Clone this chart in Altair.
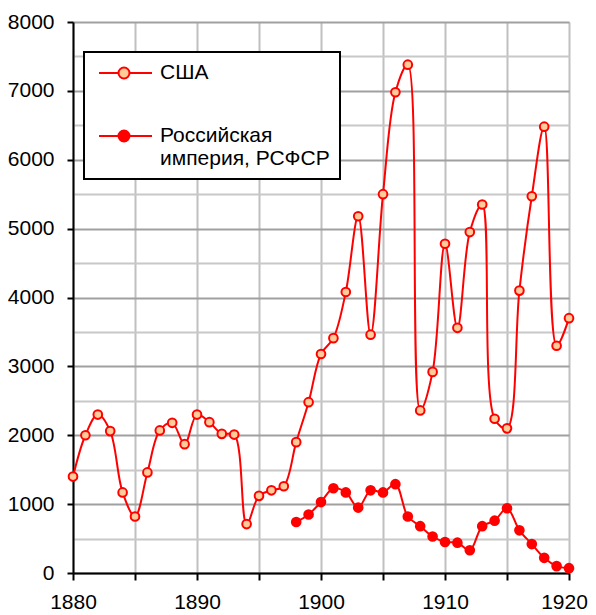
import altair as alt
import pandas as pd

series_names = ["США", "Российская империя, РСФСР"]

years_usa = list(range(1880, 1921))
usa = [1400, 2000, 2300, 2060, 1170, 820, 1460, 2070, 2180, 1870,
       2300, 2190, 2020, 2010, 710, 1120, 1200, 1260, 1900, 2480,
       3180, 3410, 4080, 5180, 3460, 5500, 6980, 7380, 2360, 2920,
       4780, 3560, 4950, 5350, 2240, 2100, 4100, 5470, 6480, 3300,
       3700]

years_ru = list(range(1898, 1921))
ru = [740, 850, 1030, 1230, 1170, 950, 1200, 1170, 1290, 820,
      680, 530, 450, 440, 330, 680, 760, 940, 620, 420,
      220, 100, 70]

x_ticks = list(range(1880, 1921, 5))
y_ticks = list(range(0, 8001, 500))

df = pd.concat([
    pd.DataFrame({"year": years_usa, "value": usa, "series": series_names[0]}),
    pd.DataFrame({"year": years_ru, "value": ru, "series": series_names[1]}),
])

FONT = "Liberation Sans"

x = alt.X("year:Q", scale=alt.Scale(domain=[1880, 1920], nice=False, zero=False),
          axis=alt.Axis(values=x_ticks, format="d", title=None,
                        labelExpr="datum.value % 10 == 0 ? datum.label : ''",
                        labelOffset={"condition": {"test": "datum.value == 1920", "value": -5}, "value": 0},
                        gridColor="#c0c0c0", gridWidth=2, tickSize=7, tickWidth=2,
                        tickColor="black", labelPadding=11, domainColor="black",
                        domainWidth=2, labelFontSize=21, labelFont=FONT,
                        labelColor="black", labelFlush=False))
y = alt.Y("value:Q", scale=alt.Scale(domain=[0, 8000], nice=False),
          axis=alt.Axis(values=y_ticks, format="d", title=None,
                        labelExpr="datum.value % 1000 == 0 ? datum.label : ''",
                        gridColor={"condition": {"test": "datum.value % 1000 == 0", "value": "#a0a0a0"}, "value": "#c8c8c8"},
                        gridWidth=2,
                        tickOpacity={"condition": {"test": "datum.value % 1000 == 0", "value": 1}, "value": 0},
                        tickSize=6, tickWidth=2, tickColor="black", labelPadding=13,
                        domainColor="black", domainWidth=2, labelFontSize=21,
                        labelFont=FONT, labelColor="black", labelFlush=False))

# legend glyph: a line segment with a circle on it (unit = sqrt(symbolSize)/2 px)
sym = ("M-0.6,0L1.35,0M2.45,0L4.7,0"
       "M1.35,0A0.55,0.55,0,1,1,2.45,0A0.55,0.55,0,1,1,1.35,0Z")

lines = alt.Chart(df).mark_line(color="red", strokeWidth=2, interpolate="catmull-rom").encode(
    x=x, y=y, detail="series:N")

points = alt.Chart(df).mark_point(shape="circle", filled=True, stroke="red", strokeWidth=2,
                                  size=75, opacity=1).encode(
    x=x, y=y,
    fill=alt.Fill("series:N", scale=alt.Scale(domain=series_names, range=["#ffcc99", "red"]),
                  legend=alt.Legend(title=None, orient="none", legendX=11, legendY=30,
                                    strokeColor="black", fillColor="white", padding=10,
                                    symbolType=sym, symbolSize=400, symbolStrokeWidth=2,
                                    symbolStrokeColor="red", symbolOpacity=1,
                                    labelFont=FONT, labelFontSize=21, labelColor="black",
                                    labelOffset=44, rowPadding=42, labelLimit=400,
                                    labelExpr="datum.label == 'Российская империя, РСФСР' ? ['Российская', 'империя, РСФСР'] : datum.label")))

chart = alt.layer(lines, points).properties(
    width=496, height=551,
    autosize=alt.AutoSizeParams(type="none"),
    padding={"left": 65, "top": 14, "right": 19, "bottom": 40},
).configure_view(stroke=None).configure(background="white").configure_legend(strokeWidth=2)

chart.save("out.html", embed_options={"renderer": "svg", "actions": False})
